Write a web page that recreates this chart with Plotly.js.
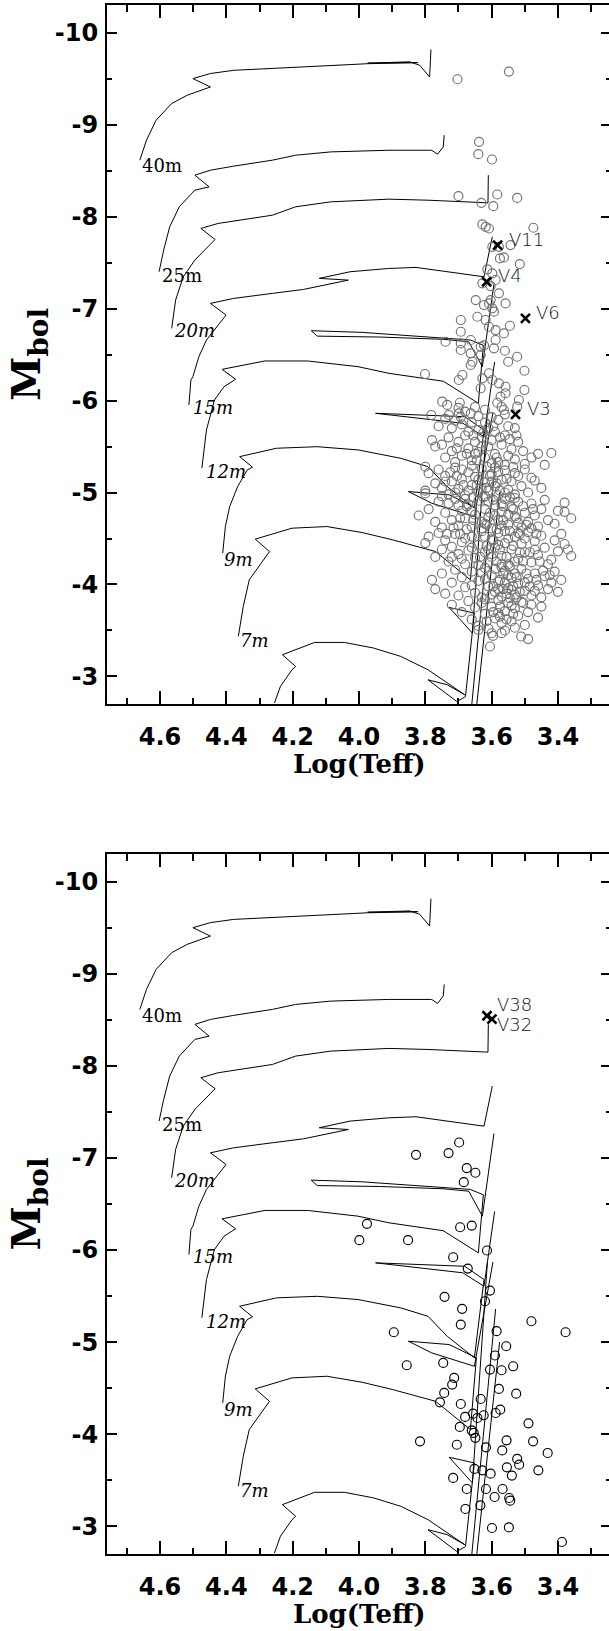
<!DOCTYPE html>
<html><head><meta charset="utf-8">
<script src="https://cdn.plot.ly/plotly-3.0.1.min.js"></script>
<style>html,body{margin:0;padding:0;overflow:hidden;background:#fff}#plot{width:620px;height:1631px}</style>
</head><body><div id="plot"></div>
<script>
// ---- axis ticks ----
const xTickVals = [4.6, 4.4, 4.2, 4.0, 3.8, 3.6, 3.4];
const xTickText = ["4.6", "4.4", "4.2", "4.0", "3.8", "3.6", "3.4"];
const xMinorVals = [4.7, 4.5, 4.3, 4.1, 3.9, 3.7, 3.5, 3.3];
const yTickVals = [-10, -9, -8, -7, -6, -5, -4, -3];
const yTickText = ["-10", "-9", "-8", "-7", "-6", "-5", "-4", "-3"];
const yMinorVals = [-9.5, -8.5, -7.5, -6.5, -5.5, -4.5, -3.5];
const xTitle = "Log(Teff)";
const yTitle = "M<sub>bol</sub>";

// ---- evolutionary tracks [logTeff, Mbol] ----
const track40 = [[4.661,-8.613],[4.641,-8.830],[4.612,-9.047],[4.565,-9.229],[4.518,-9.319],[4.448,-9.409],[4.501,-9.500],[4.448,-9.555],[4.378,-9.590],[4.261,-9.609],[4.144,-9.626],[4.027,-9.652],[3.974,-9.662],[3.910,-9.665],[3.822,-9.674],[3.974,-9.668],[3.847,-9.682],[3.817,-9.645],[3.787,-9.518],[3.783,-9.815]];
const track25 = [[4.603,-7.400],[4.589,-7.635],[4.571,-7.888],[4.542,-8.106],[4.495,-8.287],[4.452,-8.323],[4.495,-8.450],[4.448,-8.504],[4.378,-8.548],[4.261,-8.613],[4.191,-8.667],[4.085,-8.703],[3.910,-8.721],[3.781,-8.721],[3.763,-8.678],[3.746,-8.757],[3.743,-8.884]];
const track20 = [[4.565,-6.785],[4.553,-7.093],[4.530,-7.345],[4.495,-7.527],[4.434,-7.751],[4.477,-7.871],[4.425,-7.925],[4.354,-7.961],[4.261,-8.015],[4.191,-8.106],[4.085,-8.160],[3.910,-8.189],[3.792,-8.178],[3.611,-8.149],[3.610,-8.450]];
const track15 = [[4.513,-5.951],[4.507,-6.223],[4.501,-6.259],[4.483,-6.476],[4.460,-6.658],[4.425,-6.821],[4.401,-6.929],[4.448,-7.056],[4.378,-7.110],[4.261,-7.165],[4.167,-7.208],[4.032,-7.309],[4.120,-7.328],[4.027,-7.400],[3.910,-7.436],[3.828,-7.447],[3.623,-7.345],[3.598,-7.780]];
const track12 = [[4.474,-5.264],[4.460,-5.680],[4.436,-6.006],[4.407,-6.150],[4.372,-6.231],[4.413,-6.339],[4.284,-6.430],[4.155,-6.430],[4.003,-6.368],[3.910,-6.296],[3.746,-6.210],[3.640,-5.970],[3.625,-6.600],[3.664,-6.658],[3.991,-6.741],[4.144,-6.759],[4.126,-6.700],[3.935,-6.690],[3.744,-6.665],[3.669,-6.639],[3.628,-6.368],[3.593,-7.265]];
const track9 = [[4.411,-4.341],[4.403,-4.630],[4.390,-4.847],[4.366,-5.064],[4.337,-5.246],[4.321,-5.275],[4.360,-5.390],[4.249,-5.481],[4.126,-5.498],[4.003,-5.463],[3.874,-5.372],[3.792,-5.281],[3.734,-5.064],[3.652,-4.830],[3.623,-5.680],[3.681,-5.824],[3.950,-5.861],[3.687,-5.753],[3.623,-5.607],[3.591,-6.420]];
const track7 = [[4.364,-3.435],[4.349,-3.761],[4.331,-4.051],[4.296,-4.232],[4.270,-4.358],[4.313,-4.493],[4.202,-4.612],[4.097,-4.630],[3.991,-4.565],[3.898,-4.485],[3.769,-4.358],[3.664,-4.051],[3.646,-4.830],[3.728,-4.974],[3.851,-5.010],[3.781,-4.884],[3.652,-4.738],[3.596,-5.871]];
const track5 = [[4.255,-2.711],[4.237,-2.892],[4.202,-3.073],[4.191,-3.109],[4.231,-3.236],[4.134,-3.370],[4.044,-3.370],[3.956,-3.309],[3.874,-3.218],[3.792,-3.073],[3.681,-2.801],[3.734,-2.910],[3.792,-2.964],[3.705,-2.728],[3.679,-2.780],[3.652,-3.689],[3.728,-3.750],[3.658,-3.472],[3.613,-5.860]];
const trackLowA = [[3.660,-2.690],[3.588,-5.360]];
const trackLowB = [[3.645,-2.690],[3.576,-5.000]];
const tracks = [track40, track25, track20, track15, track12, track9, track7, track5, trackLowA, trackLowB];

// ---- track mass labels [text, logTeff, Mbol] ----
const massLabels = [["40m",4.659,-8.551],["25m",4.600,-7.364],["20m",4.565,-6.759],["15m",4.507,-5.926],["12m",4.466,-5.227],["9m",4.413,-4.268],["7m",4.364,-3.391]];

// ---- red supergiant sample (top panel) [logTeff, Mbol] ----
const topStars = [
[3.703,-9.493],[3.548,-9.576],[3.638,-8.812],[3.640,-8.678],[3.599,-8.620],
[3.700,-8.222],[3.631,-8.149],[3.583,-8.240],[3.595,-8.113],[3.523,-8.203],
[3.628,-7.915],[3.618,-7.888],[3.608,-7.870],[3.474,-7.878],
[3.598,-7.671],[3.578,-7.671],[3.543,-7.690],[3.575,-7.545],[3.563,-7.556],[3.515,-7.483],
[3.613,-7.426],[3.598,-7.382],[3.628,-7.274],[3.588,-7.310],[3.603,-7.244],[3.578,-7.165],
[3.648,-7.092],[3.623,-7.038],[3.608,-7.056],[3.598,-7.002],[3.603,-7.092],[3.558,-7.056],
[3.693,-6.875],[3.643,-6.911],[3.618,-6.875],[3.593,-6.966],[3.608,-6.802],[3.588,-6.766],[3.545,-6.813],
[3.693,-6.748],[3.739,-6.639],[3.693,-6.621],[3.663,-6.658],[3.633,-6.585],[3.623,-6.600],[3.593,-6.567],[3.588,-6.658],[3.563,-6.730],[3.560,-6.541],
[3.693,-6.549],[3.663,-6.513],[3.633,-6.494],[3.523,-6.476],[3.550,-6.422],[3.501,-6.324],[3.801,-6.288],
[3.699,-6.223],[3.688,-6.277],[3.663,-6.386],[3.658,-6.422],[3.628,-6.241],[3.608,-6.296],[3.598,-6.223],[3.633,-6.133],[3.578,-6.187],[3.558,-6.150],[3.501,-6.114],
[3.749,-5.988],[3.734,-5.952],[3.696,-5.976],[3.782,-5.843],[3.729,-5.843],[3.699,-5.861],[3.693,-5.820],[3.663,-5.861],
[3.573,-6.042],[3.558,-6.079],[3.583,-5.976],[3.563,-5.897],[3.518,-6.006],[3.523,-5.933],
[3.74,-5.80],[3.71,-5.78],[3.69,-5.74],[3.66,-5.76],[3.64,-5.83],[3.62,-5.90],[3.60,-5.82],[3.58,-5.79],[3.56,-5.85],[3.55,-5.72],[3.53,-5.70],[3.61,-5.70],[3.64,-5.68],[3.67,-5.66],[3.72,-5.70],[3.76,-5.72],[3.59,-5.66],[3.57,-5.93],[3.65,-5.93],[3.68,-5.88],[3.70,-5.92],[3.62,-5.76],
[3.78,-5.57],[3.77,-5.50],[3.75,-5.52],[3.73,-5.60],[3.72,-5.45],[3.70,-5.55],[3.69,-5.40],[3.68,-5.62],[3.67,-5.48],[3.66,-5.35],[3.65,-5.55],[3.64,-5.44],[3.63,-5.60],[3.62,-5.38],[3.61,-5.50],[3.60,-5.57],[3.59,-5.42],[3.58,-5.33],[3.57,-5.52],[3.56,-5.62],[3.55,-5.40],[3.54,-5.47],[3.53,-5.36],[3.52,-5.55],[3.50,-5.31],[3.48,-5.38],[3.42,-5.43],[3.44,-5.30],[3.46,-5.42],[3.71,-5.33],[3.74,-5.38],[3.65,-5.42],[3.60,-5.32],[3.56,-5.30],[3.63,-5.50],
[3.80,-5.28],[3.79,-5.21],[3.80,-5.02],[3.80,-4.99],[3.77,-5.10],[3.76,-5.25],[3.75,-5.05],[3.74,-5.18],[3.73,-4.98],[3.72,-5.12],[3.71,-5.27],[3.70,-5.04],[3.69,-5.15],[3.68,-4.97],[3.67,-5.22],[3.66,-5.08],[3.65,-5.17],[3.64,-5.00],[3.63,-5.26],[3.62,-5.11],[3.61,-5.02],[3.60,-5.20],[3.59,-5.07],[3.58,-4.97],[3.57,-5.14],[3.56,-5.24],[3.55,-5.03],[3.54,-5.12],[3.53,-4.98],[3.52,-5.18],[3.51,-5.07],[3.50,-5.25],[3.49,-5.00],[3.47,-5.13],[3.45,-5.05],[3.66,-5.29],[3.62,-4.96],[3.58,-5.22],[3.69,-5.25],[3.75,-4.96],[3.71,-5.00],[3.60,-5.12],[3.64,-5.14],[3.56,-5.00],[3.53,-5.21],[3.48,-5.16],[3.74,-5.12],[3.63,-5.05],[3.67,-5.02],[3.59,-5.27],
[3.82,-4.75],[3.79,-4.82],[3.77,-4.68],[3.76,-4.90],[3.75,-4.62],[3.74,-4.78],[3.73,-4.88],[3.72,-4.70],[3.71,-4.93],[3.70,-4.64],[3.69,-4.80],[3.68,-4.72],[3.67,-4.87],[3.66,-4.63],[3.65,-4.76],[3.64,-4.91],[3.63,-4.68],[3.62,-4.82],[3.61,-4.73],[3.60,-4.61],[3.59,-4.86],[3.58,-4.70],[3.57,-4.79],[3.56,-4.93],[3.55,-4.65],[3.54,-4.84],[3.53,-4.74],[3.52,-4.90],[3.51,-4.62],[3.50,-4.78],[3.49,-4.68],[3.48,-4.88],[3.47,-4.75],[3.46,-4.63],[3.45,-4.82],[3.43,-4.70],[3.40,-4.80],[3.38,-4.89],[3.38,-4.79],[3.41,-4.66],[3.36,-4.72],[3.44,-4.92],[3.57,-4.64],[3.61,-4.90],[3.66,-4.80],[3.70,-4.86],[3.55,-4.76],[3.52,-4.67],[3.59,-4.75],[3.63,-4.61],[3.68,-4.93],[3.53,-4.94],[3.48,-4.61],[3.62,-4.66],[3.57,-4.87],
[3.80,-4.45],[3.79,-4.52],[3.77,-4.30],[3.76,-4.56],[3.75,-4.38],[3.74,-4.48],[3.73,-4.25],[3.72,-4.41],[3.71,-4.55],[3.70,-4.33],[3.69,-4.46],[3.68,-4.22],[3.67,-4.37],[3.66,-4.52],[3.65,-4.29],[3.64,-4.43],[3.63,-4.58],[3.62,-4.35],[3.61,-4.24],[3.60,-4.49],[3.59,-4.40],[3.58,-4.56],[3.57,-4.31],[3.56,-4.45],[3.55,-4.22],[3.54,-4.38],[3.53,-4.52],[3.52,-4.28],[3.51,-4.44],[3.50,-4.35],[3.49,-4.57],[3.48,-4.24],[3.47,-4.47],[3.46,-4.32],[3.45,-4.53],[3.44,-4.40],[3.42,-4.27],[3.41,-4.48],[3.40,-4.36],[3.39,-4.55],[3.37,-4.38],[3.36,-4.31],[3.38,-4.44],[3.56,-4.58],[3.60,-4.30],[3.64,-4.21],[3.68,-4.50],[3.72,-4.30],[3.53,-4.25],[3.58,-4.43],[3.62,-4.52],[3.66,-4.40],[3.50,-4.50],[3.57,-4.22],[3.55,-4.50],[3.61,-4.38],[3.69,-4.28],[3.52,-4.56],[3.47,-4.38],[3.43,-4.22],
[3.78,-4.05],[3.77,-3.95],[3.75,-4.12],[3.74,-3.90],[3.72,-4.02],[3.71,-4.16],[3.70,-3.88],[3.69,-4.08],[3.68,-3.97],[3.66,-4.14],[3.65,-3.91],[3.64,-4.04],[3.63,-3.86],[3.62,-4.18],[3.61,-3.98],[3.60,-4.10],[3.59,-3.92],[3.58,-4.03],[3.57,-3.87],[3.56,-4.15],[3.55,-3.96],[3.54,-4.07],[3.53,-3.89],[3.52,-4.01],[3.51,-4.17],[3.50,-3.93],[3.49,-4.06],[3.48,-3.88],[3.47,-4.12],[3.46,-3.99],[3.45,-3.86],[3.44,-4.09],[3.43,-3.95],[3.42,-4.02],[3.40,-3.92],[3.39,-4.05],[3.41,-4.14],[3.55,-4.10],[3.58,-3.95],[3.62,-4.06],[3.66,-3.99],[3.53,-4.12],[3.57,-4.19],[3.60,-3.89],[3.50,-4.02],[3.47,-3.93],[3.63,-4.13],[3.59,-4.17],[3.54,-3.94],[3.56,-4.02],
[3.72,-3.78],[3.69,-3.70],[3.67,-3.82],[3.66,-3.62],[3.65,-3.75],[3.64,-3.55],[3.63,-3.80],[3.62,-3.68],[3.61,-3.52],[3.60,-3.76],[3.59,-3.63],[3.58,-3.83],[3.57,-3.58],[3.56,-3.71],[3.55,-3.80],[3.54,-3.60],[3.53,-3.74],[3.52,-3.66],[3.51,-3.81],[3.50,-3.56],[3.49,-3.70],[3.48,-3.78],[3.46,-3.64],[3.45,-3.76],[3.56,-3.50],[3.60,-3.47],[3.53,-3.53],[3.62,-3.84],[3.58,-3.69],[3.54,-3.77],
[3.605,-3.326],[3.596,-3.442],[3.570,-3.471],[3.511,-3.435],[3.490,-3.406],[3.640,-3.507],
[3.605,-5.18],[3.615,-5.05],[3.625,-4.95],[3.595,-4.92],[3.585,-5.10],[3.575,-5.02],[3.565,-4.85],[3.545,-4.95],[3.535,-4.82],[3.605,-4.78],[3.615,-4.65],[3.585,-4.60],[3.565,-4.70],[3.545,-4.58],[3.525,-4.72],[3.595,-4.48],[3.575,-4.38],[3.555,-4.30],[3.535,-4.42],[3.515,-4.35],[3.615,-4.42],[3.635,-4.30],[3.585,-4.25],[3.565,-4.12],[3.545,-4.20],[3.525,-4.08],[3.505,-4.25],[3.495,-4.12],[3.575,-4.05],[3.595,-3.98],[3.555,-3.90],[3.535,-3.98],[3.515,-3.92],[3.485,-3.98],[3.465,-4.05],[3.445,-4.15],[3.425,-4.10],[3.455,-4.25],[3.485,-4.35],[3.465,-4.55],[3.495,-4.65],[3.475,-4.82],[3.505,-4.85],[3.515,-4.55],[3.645,-5.08],[3.655,-4.95],[3.675,-4.85],[3.695,-4.72],[3.655,-4.70],[3.675,-4.60],[3.695,-4.55],[3.715,-4.62],[3.735,-4.55],[3.685,-5.08],[3.705,-5.18],[3.725,-5.22],[3.645,-5.35],[3.615,-5.28],[3.585,-5.38],[3.555,-5.15],[3.535,-5.28],[3.675,-5.42],[3.705,-5.48],[3.655,-5.62],[3.625,-5.65],[3.595,-5.72],[3.575,-5.60],[3.545,-5.58],[3.505,-5.45],[3.525,-5.62],[3.565,-3.95],[3.545,-3.85],[3.525,-3.86],[3.505,-3.80],[3.575,-3.76],[3.595,-3.70],[3.615,-3.60],[3.575,-3.65],[3.535,-3.68],[3.555,-3.62]
];
// ---- variable stars (top panel) ----
const topVarNames = ["V11", "V4", "V6", "V3"];
const topVarX = [3.582, 3.615, 3.498, 3.528];
const topVarY = [-7.690, -7.291, -6.893, -5.850];

// ---- second sample (bottom panel) [logTeff, Mbol] ----
const bottomStars = [
[3.828,-7.034],[3.730,-7.053],[3.698,-7.168],[3.675,-6.890],[3.649,-6.839],[3.684,-6.737],
[3.976,-6.285],[3.695,-6.248],[3.660,-6.266],[3.999,-6.107],[3.852,-6.107],[3.614,-5.995],
[3.716,-5.922],[3.672,-5.799],[3.605,-5.560],[3.742,-5.492],[3.620,-5.444],[3.689,-5.362],
[3.693,-5.191],[3.480,-5.227],[3.895,-5.108],[3.585,-5.119],[3.377,-5.108],[3.556,-4.956],
[3.590,-4.855],[3.856,-4.749],[3.746,-4.775],[3.535,-4.738],[3.605,-4.702],[3.570,-4.695],
[3.713,-4.612],[3.719,-4.539],[3.743,-4.449],[3.578,-4.492],[3.526,-4.441],[3.633,-4.383],
[3.756,-4.347],[3.693,-4.329],[3.574,-4.267],[3.588,-4.231],[3.656,-4.224],[3.624,-4.206],
[3.680,-4.188],[3.643,-4.177],[3.696,-4.080],[3.660,-4.043],[3.654,-4.015],[3.649,-3.961],
[3.489,-4.119],[3.816,-3.923],[3.555,-3.934],[3.475,-3.923],[3.705,-3.886],[3.617,-3.858],
[3.568,-3.825],[3.431,-3.797],[3.523,-3.732],[3.517,-3.670],[3.554,-3.641],[3.652,-3.624],
[3.628,-3.608],[3.459,-3.608],[3.603,-3.572],[3.539,-3.551],[3.716,-3.526],[3.675,-3.406],
[3.617,-3.406],[3.567,-3.406],[3.591,-3.319],[3.547,-3.308],[3.544,-3.279],[3.634,-3.228],
[3.679,-3.189],[3.599,-2.982],[3.548,-2.989],[3.388,-2.830]
];
const bottomVarNames = ["V38", "V32"];
const bottomVarX = [3.614, 3.599];
const bottomVarY = [-8.544, -8.508];

// ---- build traces ----
const traces = [];
function addPanel(xa, ya, stars, starColor, vx, vy) {
  tracks.forEach(t => traces.push({
    type: 'scatter', mode: 'lines', xaxis: xa, yaxis: ya,
    x: t.map(p => p[0]), y: t.map(p => p[1]),
    line: {color: '#000', width: 1}, hoverinfo: 'skip', showlegend: false
  }));
  traces.push({
    type: 'scatter', mode: 'markers', xaxis: xa, yaxis: ya,
    x: stars.map(p => p[0]), y: stars.map(p => p[1]),
    marker: {symbol: 'circle-open', size: 9, color: starColor, line: {width: 1.15, color: starColor}},
    showlegend: false
  });
  traces.push({
    type: 'scatter', mode: 'markers', xaxis: xa, yaxis: ya, x: vx, y: vy,
    marker: {symbol: 'x-thin', size: 9, line: {width: 2.6, color: '#000'}},
    showlegend: false
  });
}
addPanel('x', 'y', topStars, '#727272', topVarX, topVarY);
addPanel('x2', 'y2', bottomStars, '#000000', bottomVarX, bottomVarY);

const annotations = [];
[['x','y'],['x2','y2']].forEach(([xr, yr]) => {
  massLabels.forEach(m => annotations.push({
    xref: xr, yref: yr, x: m[1], y: m[2], text: m[0], showarrow: false,
    xanchor: 'left', yanchor: 'middle',
    font: {family: 'DejaVu Serif', size: 18, color: '#000', style: (m[0] === '40m' || m[0] === '25m') ? 'normal' : 'italic'}
  }));
  // x-axis title, placed below the tick labels
  annotations.push({
    xref: xr + ' domain', yref: yr + ' domain', x: 0.5, y: 0, text: xTitle, showarrow: false,
    xanchor: 'center', yanchor: 'middle', yshift: -60,
    font: {family: 'DejaVu Serif', size: 26, weight: 'bold', color: '#000'}
  });
});
function varLabel(xr, yr, name, x, y, xshift, yshift) {
  annotations.push({
    xref: xr, yref: yr, x: x, y: y, text: name, showarrow: false,
    xanchor: 'left', yanchor: 'middle', xshift: xshift, yshift: yshift,
    font: {family: 'DejaVu Sans', size: 18, weight: 200, color: '#111'}
  });
}
topVarNames.forEach((n, i) => varLabel('x', 'y', n, topVarX[i], topVarY[i], 9, 6));
varLabel('x2', 'y2', bottomVarNames[0], bottomVarX[1], bottomVarY[0], 3, 11);
varLabel('x2', 'y2', bottomVarNames[1], bottomVarX[1], bottomVarY[1], 3, -5);

const tickFont = {family: 'DejaVu Sans', size: 24, weight: 'bold', color: '#000'};
function xAxis(anchor) {
  return {
    anchor: anchor, domain: [0, 1], range: [4.76, 3.24],
    showline: true, linewidth: 2, linecolor: '#000', mirror: 'ticks',
    ticks: 'inside', ticklen: 13, tickwidth: 2, tickcolor: '#000',
    tickvals: xTickVals, ticktext: xTickText, tickfont: tickFont, ticklabelstandoff: 10,
    minor: {tickvals: xMinorVals, ticks: 'inside', ticklen: 6.5, tickwidth: 2, tickcolor: '#000'},
    showgrid: false, zeroline: false
  };
}
function yAxis(anchor, domain) {
  return {
    anchor: anchor, domain: domain, range: [-2.70, -10.30],
    showline: true, linewidth: 2, linecolor: '#000', mirror: 'ticks',
    ticks: 'inside', ticklen: 10, tickwidth: 2, tickcolor: '#000',
    tickvals: yTickVals, ticktext: yTickText, tickfont: tickFont, ticklabelstandoff: 2,
    minor: {tickvals: yMinorVals, ticks: 'inside', ticklen: 5, tickwidth: 2, tickcolor: '#000'},
    showgrid: false, zeroline: false,
    title: {text: yTitle, font: {family: 'DejaVu Serif', size: 40, weight: 'bold', color: '#000'}, standoff: 2}
  };
}
const layout = {
  width: 620, height: 1631,
  margin: {l: 107, r: 9, t: 5, b: 77},
  paper_bgcolor: '#fff', plot_bgcolor: '#fff',
  showlegend: false,
  xaxis: xAxis('y'), yaxis: yAxis('x', [0.5487, 1]),
  xaxis2: xAxis('y2'), yaxis2: yAxis('x2', [0, 0.4519]),
  annotations: annotations
};
Plotly.newPlot('plot', traces, layout, {staticPlot: true, displayModeBar: false});
</script></body></html>
